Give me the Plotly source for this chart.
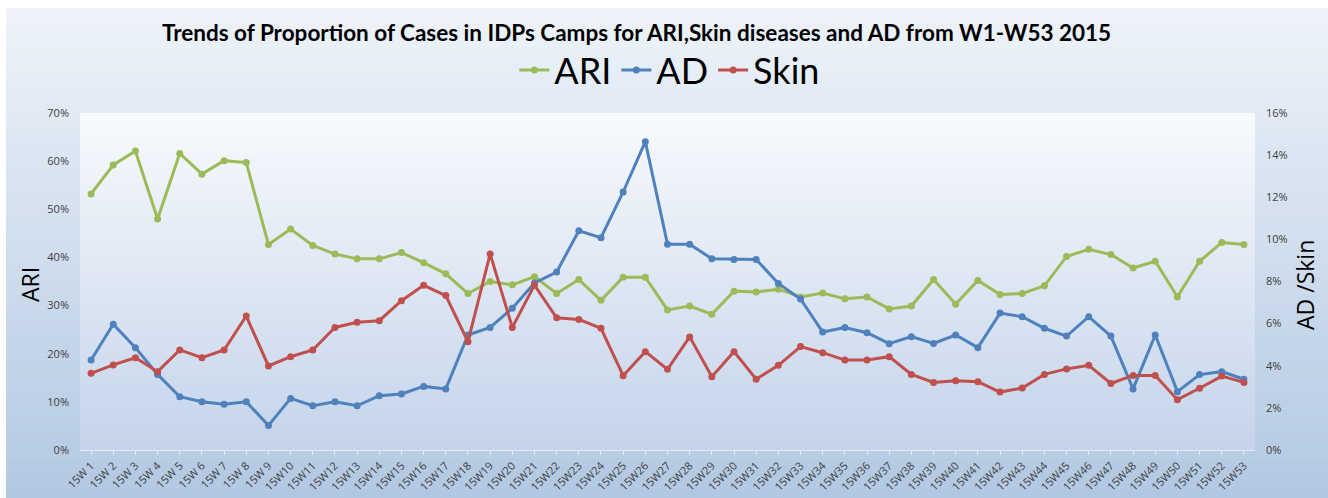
import plotly.graph_objects as go

weeks = [f"15W {i}" if i < 10 else f"15W{i}" for i in range(1, 54)]

ari = [53.2, 59.2, 62.1, 48.0, 61.6, 57.3, 60.1, 59.7, 42.7, 45.9,
       42.5, 40.7, 39.7, 39.7, 41.0, 38.9, 36.6, 32.5, 35.0, 34.3,
       36.0, 32.5, 35.4, 31.1, 35.9, 35.9, 29.1, 29.9, 28.2, 33.0,
       32.8, 33.4, 31.8, 32.6, 31.4, 31.8, 29.3, 29.9, 35.4, 30.3,
       35.2, 32.3, 32.5, 34.1, 40.2, 41.7, 40.6, 37.8, 39.2, 31.8,
       39.2, 43.1, 42.7]

ad = [4.27, 5.97, 4.86, 3.59, 2.53, 2.29, 2.17, 2.29, 1.16, 2.45,
      2.10, 2.29, 2.10, 2.58, 2.66, 3.02, 2.90, 5.46, 5.82, 6.73,
      7.93, 8.45, 10.41, 10.08, 12.25, 14.64, 9.77, 9.77, 9.08, 9.05,
      9.05, 7.91, 7.17, 5.60, 5.82, 5.57, 5.05, 5.38, 5.06, 5.46,
      4.86, 6.50, 6.33, 5.78, 5.41, 6.33, 5.41, 2.90, 5.46, 2.77,
      3.58, 3.72, 3.36]

skin = [3.64, 4.04, 4.38, 3.72, 4.75, 4.38, 4.75, 6.36, 3.99, 4.43,
        4.75, 5.82, 6.06, 6.14, 7.09, 7.82, 7.33, 5.14, 9.31, 5.82,
        7.83, 6.28, 6.20, 5.78, 3.53, 4.67, 3.83, 5.37, 3.48, 4.67,
        3.36, 4.02, 4.91, 4.62, 4.27, 4.27, 4.43, 3.59, 3.21, 3.29,
        3.24, 2.75, 2.94, 3.59, 3.85, 4.02, 3.16, 3.54, 3.54, 2.39,
        2.93, 3.51, 3.21]

title_text = "Trends of Proportion of Cases in IDPs Camps for ARI,Skin diseases and AD from W1-W53 2015"
left_title = "ARI"
right_title = "AD /Skin"

C_ARI = "#9bbb59"
C_AD = "#4f81bd"
C_SKIN = "#c0504d"

W, H = 1328, 498
PL, PR, PT, PB = 80, 1255, 113, 450

def px_to_paper_x(px):
    return (px - PL) / (PR - PL)

def px_to_paper_y(py):
    return (PB - py) / (PB - PT)

def lerp(c1, c2, t):
    return "rgb(%d,%d,%d)" % tuple(round(a + (b - a) * t) for a, b in zip(c1, c2))

shapes = []
# outer chart-area gradient
top_c, bot_c = (238, 243, 249), (178, 200, 226)
n = 60
y0p, y1p = 8, 498
for i in range(n):
    a = y0p + (y1p - y0p) * i / n
    b = y0p + (y1p - y0p) * (i + 1) / n + 0.6
    shapes.append(dict(type="rect", xref="paper", yref="paper", layer="below",
                       x0=px_to_paper_x(6), x1=px_to_paper_x(1328),
                       y0=px_to_paper_y(b), y1=px_to_paper_y(a),
                       fillcolor=lerp(top_c, bot_c, (i + 0.5) / n), line=dict(width=0)))
# plot-area gradient
ptop, pbot = (248, 250, 253), (196, 212, 234)
n2 = 50
for i in range(n2):
    a = PT + (PB - PT) * i / n2
    b = PT + (PB - PT) * (i + 1) / n2 + 0.6
    shapes.append(dict(type="rect", xref="paper", yref="paper", layer="below",
                       x0=0, x1=1, y0=px_to_paper_y(min(b, PB)), y1=px_to_paper_y(a),
                       fillcolor=lerp(ptop, pbot, (i + 0.5) / n2), line=dict(width=0)))

fig = go.Figure()
fig.add_trace(go.Scatter(x=weeks, y=[v / 100 for v in ari], name="ARI", mode="lines+markers",
                         line=dict(color=C_ARI, width=3), marker=dict(size=7, color=C_ARI)))
fig.add_trace(go.Scatter(x=weeks, y=[v / 100 for v in ad], name="AD", mode="lines+markers",
                         yaxis="y2", line=dict(color=C_AD, width=3), marker=dict(size=7, color=C_AD)))
fig.add_trace(go.Scatter(x=weeks, y=[v / 100 for v in skin], name="Skin", mode="lines+markers",
                         yaxis="y2", line=dict(color=C_SKIN, width=3), marker=dict(size=7, color=C_SKIN)))

tickfont = dict(family="Open Sans, sans-serif", size=11, color="#404040")
axtitlefont = dict(family="Open Sans, sans-serif", size=23, color="black")

fig.update_layout(
    width=W, height=H,
    margin=dict(l=PL, r=W - PR, t=PT, b=H - PB, autoexpand=False),
    paper_bgcolor="white",
    plot_bgcolor="rgba(0,0,0,0)",
    shapes=shapes,
    showlegend=True,
    legend=dict(orientation="h", x=0.502, xanchor="center", y=px_to_paper_y(70), yanchor="middle",
                font=dict(family="Lato, sans-serif", size=36, color="black"),
                bgcolor="rgba(0,0,0,0)", itemwidth=30, tracegroupgap=0),
    xaxis=dict(type="category", tickangle=-45, tickfont=tickfont, showgrid=False, automargin=False,
               showline=True, linecolor="rgba(255,255,255,0.6)", linewidth=1,
               ticks="outside", ticklen=4, tickcolor="rgba(255,255,255,0.6)",
               range=[-0.5, 52.5]),
    yaxis=dict(range=[0, 0.7], dtick=0.1, tickformat=".0%", tickfont=tickfont, automargin=False,
               showgrid=False, zeroline=False, ticklabelstandoff=10),
    yaxis2=dict(range=[0, 0.16], dtick=0.02, tickformat=".0%", tickfont=tickfont, automargin=False,
                overlaying="y", side="right", showgrid=False, zeroline=False, ticklabelstandoff=10),
    annotations=[
        dict(text="<b>" + title_text + "</b>", xref="paper", yref="paper",
             x=px_to_paper_x(636), y=px_to_paper_y(32), xanchor="center", yanchor="middle",
             showarrow=False, font=dict(family="Lato, sans-serif", size=22.5, color="black")),
        dict(text=left_title, xref="paper", yref="paper", textangle=-90,
             x=px_to_paper_x(30), y=px_to_paper_y(285), xanchor="center", yanchor="middle",
             showarrow=False, font=axtitlefont),
        dict(text=right_title, xref="paper", yref="paper", textangle=-90,
             x=px_to_paper_x(1305), y=px_to_paper_y(285), xanchor="center", yanchor="middle",
             showarrow=False, font=axtitlefont),
    ],
)

fig.write_html("out.html", config={"displayModeBar": False},
               post_script="document.body.style.margin='0';document.body.style.overflow='hidden';")
